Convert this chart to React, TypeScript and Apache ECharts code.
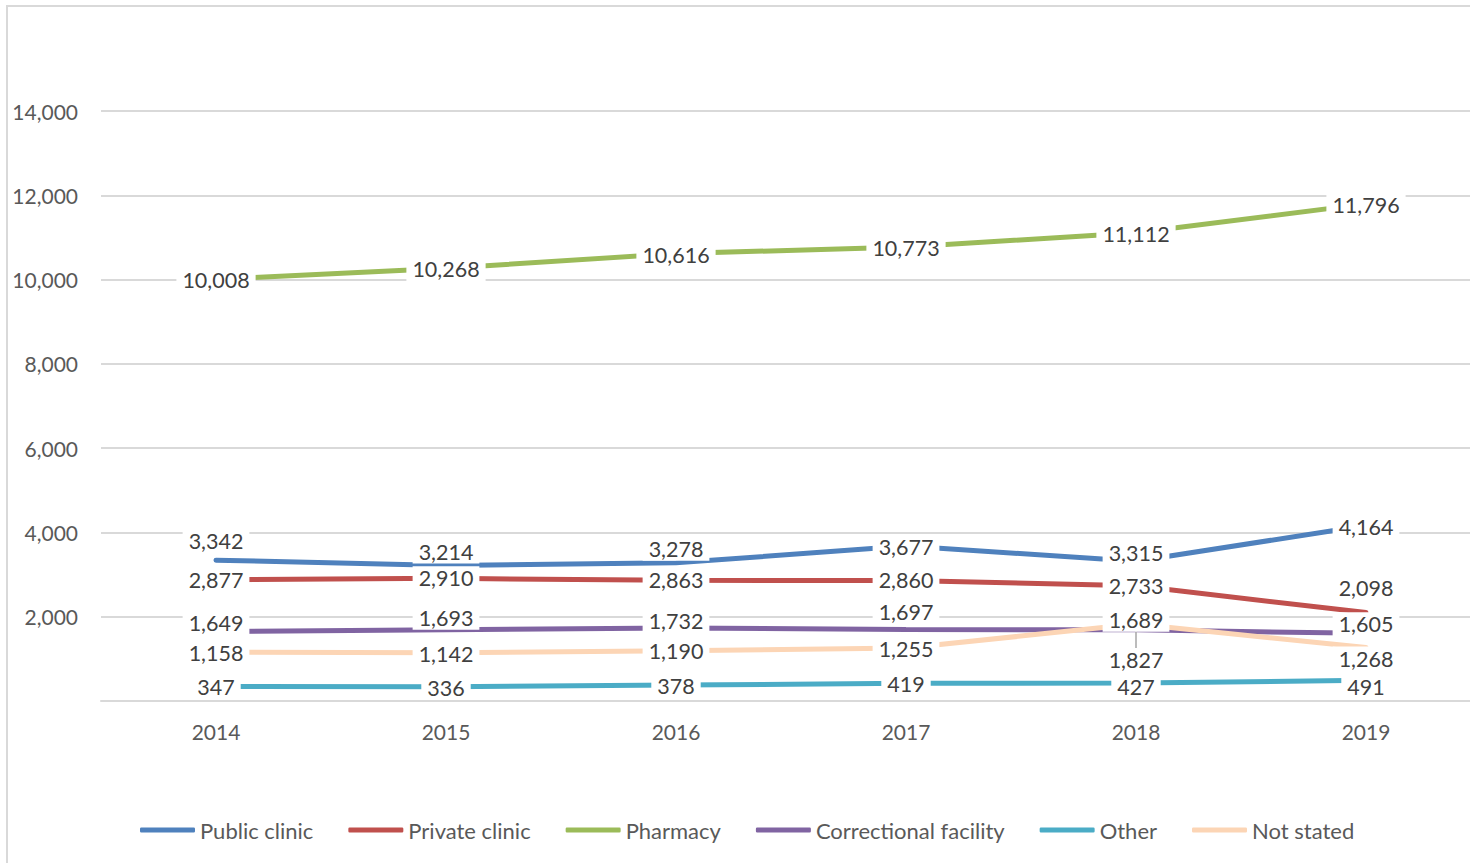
import React, { useEffect, useRef } from "react";
import * as echarts from "echarts";

const years = ["2014", "2015", "2016", "2017", "2018", "2019"];
const publicClinic = [3342, 3214, 3278, 3677, 3315, 4164];
const privateClinic = [2877, 2910, 2863, 2860, 2733, 2098];
const pharmacy = [10008, 10268, 10616, 10773, 11112, 11796];
const correctional = [1649, 1693, 1732, 1697, 1689, 1605];
const other = [347, 336, 378, 419, 427, 491];
const notStated = [1158, 1142, 1190, 1255, 1827, 1268];

// vertical nudges of the data labels (layout, not data)
const labelNudge: Record<string, number[]> = {
  "Public clinic": [-19, -14, -14, 1, -8, 1],
  "Private clinic": [0, 0, 0, 0, 0, -25],
  Pharmacy: [1, 1, 1, 1, 1, 1],
  "Correctional facility": [-9, -12, -7, -17, -10, -9],
  Other: [1, 1, 1, 1, 4, 7],
  "Not stated": [1, 1, 0, 1, 36, 11],
};

const FONT = "Lato";

export default function App() {
  const ref = useRef<HTMLDivElement>(null);
  useEffect(() => {
    if (!ref.current) return;
    const chart = echarts.init(ref.current, undefined, { renderer: "svg" });
    const defs = [
      { name: "Public clinic", data: publicClinic, color: "#4F81BD" },
      { name: "Private clinic", data: privateClinic, color: "#C0504D" },
      { name: "Pharmacy", data: pharmacy, color: "#9BBB59" },
      { name: "Correctional facility", data: correctional, color: "#8064A2" },
      { name: "Other", data: other, color: "#4BACC6" },
      { name: "Not stated", data: notStated, color: "#FCD5B5" },
    ];
    const series = defs.map((d) => ({
      name: d.name,
      type: "line",
      symbol: "circle",
      symbolSize: 2,
      color: d.color,
      lineStyle: { width: 5, color: d.color, cap: "round" },
      itemStyle: { color: d.color },
      data: d.data.map((v, i) => {
        const item: any = {
          value: v,
          label: { offset: [0, labelNudge[d.name][i]] },
        };
        if (d.name === "Not stated" && i === 4) {
          item.labelLine = { show: true, lineStyle: { color: "#a6a6a6", width: 1.5 } };
        }
        return item;
      }),
      label: {
        show: true,
        position: "inside",
        formatter: (p: any) => Number(p.value).toLocaleString("en-US"),
        color: "#404040",
        fontFamily: FONT,
        fontSize: 21.5,
        backgroundColor: "#ffffff",
        padding: [1, 6],
      },
      emphasis: { disabled: true },
    }));
    chart.setOption({
      animation: false,
      backgroundColor: "#ffffff",
      graphic: [
        {
          type: "rect",
          shape: { x: 7, y: 6, width: 1500, height: 900 },
          style: { fill: "none", stroke: "#d9d9d9", lineWidth: 2 },
          silent: true,
        },
      ],
      grid: { left: 101, top: 111, width: 1380, height: 590, containLabel: false },
      legend: {
        top: 814,
        left: 135,
        icon: "roundRect",
        itemWidth: 55,
        itemHeight: 5,
        itemGap: 35,
        textStyle: { color: "#595959", fontFamily: FONT, fontSize: 22 },
        data: defs.map((d) => d.name),
      },
      xAxis: {
        type: "category",
        data: years,
        boundaryGap: true,
        axisTick: { show: false },
        axisLine: { lineStyle: { color: "#d9d9d9", width: 2 } },
        axisLabel: { color: "#595959", fontFamily: FONT, fontSize: 21, margin: 20 },
      },
      yAxis: {
        type: "value",
        min: 0,
        max: 14000,
        interval: 2000,
        axisLine: { show: false },
        axisTick: { show: false },
        splitLine: { lineStyle: { color: "#d9d9d9", width: 2 } },
        axisLabel: {
          color: "#595959",
          fontFamily: FONT,
          fontSize: 21,
          margin: 23,
          formatter: (v: number) => (v === 0 ? "" : v.toLocaleString("en-US")),
        },
      },
      series,
    });
    return () => chart.dispose();
  }, []);
  return (
    <div
      style={{
        position: "absolute",
        left: 0,
        top: 0,
        width: 1470,
        height: 863,
        overflow: "hidden",
      }}
    >
      <div ref={ref} style={{ width: 1500, height: 863 }} />
    </div>
  );
}
